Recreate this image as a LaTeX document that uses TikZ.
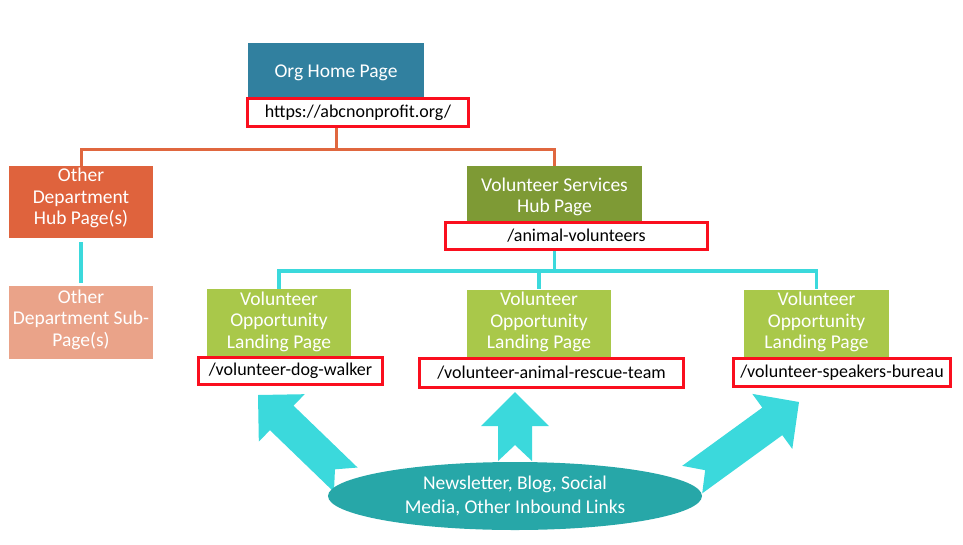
\documentclass[tikz,border=0pt]{standalone}
\usepackage{fontspec}
\setmainfont{Carlito}
\usetikzlibrary{shapes.geometric,calc}
\definecolor{orgc}{RGB}{49,128,159}
\definecolor{ohubc}{RGB}{223,99,61}
\definecolor{osubc}{RGB}{234,163,137}
\definecolor{vhubc}{RGB}{126,154,53}
\definecolor{oppc}{RGB}{169,200,74}
\definecolor{redc}{RGB}{250,15,30}
\definecolor{orangec}{RGB}{224,103,63}
\definecolor{cyanc}{RGB}{59,217,220}
\definecolor{ellc}{RGB}{39,167,168}
\begin{document}
\begin{tikzpicture}[x=1pt,y=-1pt,
  whitetext/.style={font=\fontsize{19.5}{21.5}\selectfont, text=white, align=center, inner sep=0pt},
  colbox/.style={rectangle, inner sep=0pt},
  urlbox/.style={rectangle, draw=redc, line width=3pt, fill=white, inner sep=0pt, text=black,
    font=\fontsize{18}{21}\selectfont},
  orangeline/.style={draw=orangec, line width=3pt},
  cyanline/.style={draw=cyanc, line width=3.5pt},
  arrowfill/.style={fill=cyanc}]
\useasboundingbox (0,0) rectangle (963,544);

% block arrows (behind ellipse)
\begin{scope}[shift={(258,395)}, rotate=136]
\fill[arrowfill] (0,0) -- (-33,33) -- (-33,17) -- (-122,17) -- (-107,0) -- (-122,-17) -- (-33,-17) -- (-33,-33) -- cycle;
\end{scope}
\begin{scope}[shift={(515,392)}, rotate=90]
\fill[arrowfill] (0,0) -- (-34,34) -- (-34,17) -- (-69,17) -- (-53,0) -- (-69,-17) -- (-34,-17) -- (-34,-34) -- cycle;
\end{scope}
\begin{scope}[shift={(799,402)}, rotate=36]
\fill[arrowfill] (0,0) -- (-33,34) -- (-33,17) -- (-132,17) -- (-116,0) -- (-132,-17) -- (-33,-17) -- (-33,-34) -- cycle;
\end{scope}

% boxes
\node[colbox, fill=orgc, minimum width=176pt, minimum height=54pt,
  label={[whitetext, yshift=-3pt]center:Org Home Page}] (org) at (336,70) {};
\node[urlbox, minimum width=221pt, minimum height=28pt] (url) at (358,112.5) {https://abcnonprofit.org/};

\node[colbox, fill=ohubc, minimum width=144pt, minimum height=72pt,
  label={[whitetext, yshift=4pt]center:{Other\\Department\\Hub Page(s)}}] (ohub) at (81,202) {};
\node[colbox, fill=osubc, minimum width=144pt, minimum height=73pt,
  label={[whitetext, yshift=3pt]center:{Other\\Department Sub-\\Page(s)}}] (osub) at (81,322.5) {};

\node[colbox, fill=vhubc, minimum width=175pt, minimum height=56pt,
  label={[whitetext, yshift=-3pt]center:{Volunteer Services\\Hub Page}}] (vhub) at (554.5,194) {};
\node[urlbox, minimum width=262pt, minimum height=27pt] (vurl) at (576.5,236) {/animal-volunteers};

\node[colbox, fill=oppc, minimum width=144pt, minimum height=67pt,
  label={[whitetext, yshift=1pt]center:{Volunteer\\Opportunity\\Landing Page}}] (opp1) at (279,322.5) {};
\node[colbox, fill=oppc, minimum width=144pt, minimum height=67pt,
  label={[whitetext, yshift=1pt]center:{Volunteer\\Opportunity\\Landing Page}}] (opp2) at (539,323) {};
\node[colbox, fill=oppc, minimum width=145pt, minimum height=67pt,
  label={[whitetext, yshift=1pt]center:{Volunteer\\Opportunity\\Landing Page}}] (opp3) at (816.5,323) {};

\node[urlbox, minimum width=184pt, minimum height=27pt] (u1) at (290.5,371) {/volunteer-dog-walker};
\node[urlbox, minimum width=264pt, minimum height=29pt] (u2) at (551.5,373) {/volunteer-animal-rescue-team};
\node[urlbox, minimum width=217pt, minimum height=28pt] (u3) at (842,372.5) {/volunteer-speakers-bureau};

% source ellipse
\node[ellipse, fill=ellc, minimum width=374pt, minimum height=68pt, inner sep=0pt, text=white, align=center,
  font=\fontsize{19.5}{23.5}\selectfont] (src) at (515,496) {Newsletter, Blog, Social\\Media, Other Inbound Links};

% connectors
\coordinate (oj) at (336,149);
\draw[orangeline] (org.south |- url.south) -- (oj) -| (ohub.north);
\draw[orangeline] (oj) -| (vhub.north);

\coordinate (cj) at (554.5,271);
\draw[cyanline] (vhub.south |- vurl.south) -- (cj) -| (opp1.north);
\draw[cyanline] (cj) -| (opp2.north);
\draw[cyanline] (cj) -| (opp3.north);

\draw[cyanline, shorten <=4pt, shorten >=3pt] (ohub.south) -- (osub.north);
\end{tikzpicture}
\end{document}
